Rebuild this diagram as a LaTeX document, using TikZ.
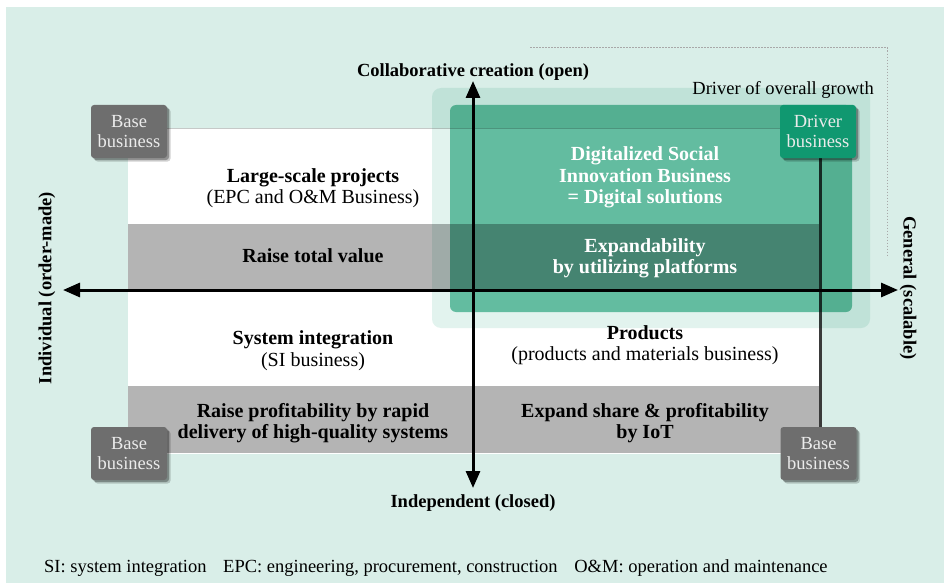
\documentclass[tikz,border=0pt]{standalone}
\usepackage{fontspec}
\setmainfont{Liberation Serif}
\usetikzlibrary{arrows.meta,shadows}
\definecolor{bgmint}{HTML}{D9EEE8}
\definecolor{halo}{HTML}{E2F3EE}
\definecolor{zone}{HTML}{70C6AC}
\definecolor{band}{HTML}{B4B4B4}
\definecolor{basegrey}{HTML}{6E6E6E}
\definecolor{drivergreen}{HTML}{109870}
\definecolor{edge}{HTML}{3A3A3A}
\definecolor{dotgrey}{HTML}{A8A8A8}

\begin{document}
\begin{tikzpicture}[x=1pt,y=-1pt,
  font=\fontsize{18.5}{21.5}\selectfont,
  tag/.style={minimum width=76pt, minimum height=53pt, inner sep=0pt,
    rounded corners=3pt, text=white!92!black, align=center,
    font=\fontsize{18.5}{20}\selectfont,
    general shadow={shadow xshift=3.5pt, shadow yshift=-3.5pt, fill=black, opacity=0.18},
    general shadow={shadow xshift=2pt, shadow yshift=-2pt, fill=black, opacity=0.3}},
  basetag/.style={tag, fill=basegrey},
  drivertag/.style={tag, fill=drivergreen},
  txt/.style={align=center, inner sep=0pt},
  quad/.style={txt, anchor=base, font=\fontsize{20}{21.5}\selectfont},
  axis/.style={line width=3pt, {Triangle[length=17pt,width=14pt]}-{Triangle[length=17pt,width=14pt]}},
]
\useasboundingbox (0,0) rectangle (944,583);
% backdrop
\fill[bgmint] (6,7) rectangle (944,583);

% quadrant field with its two grey bands
\fill[white] (128,128) rectangle (819,453);
\draw[white!80!bgmint!80!black, line width=0.6pt] (128,128) -- (819,128);
\fill[band] (128,224) rectangle (819,290);
\fill[band] (128,386) rectangle (819,453);
\draw[white, line width=1pt] (128,453.5) -- (819,453.5);
\draw[edge, line width=2.6pt] (820.5,128) -- (820.5,455);

% growth zone (tinted overlays)
\begin{scope}[blend mode=multiply]
  \fill[halo, rounded corners=9pt] (432,88) rectangle (870,328);
  \fill[zone, rounded corners=6pt] (450,105) rectangle (852,312);
\end{scope}

% quadrant texts (anchored on the last baseline)
\node[quad] (lsp) at (313,203.5) {\textbf{Large-scale projects}\\(EPC and O\&M Business)};
\node[quad] (rtv) at (313,262) {\textbf{Raise total value}};
\node[quad] (si)  at (313,366) {\textbf{System integration}\\(SI business)};
\node[quad] (rpf) at (313,438.5) {\textbf{Raise profitability by rapid}\\\textbf{delivery of high-quality systems}};
\node[quad, text=white] (dsi) at (645,203.5) {\textbf{Digitalized Social}\\\textbf{Innovation Business}\\\textbf{= Digital solutions}};
\node[quad, text=white] (exp) at (645,273.5) {\textbf{Expandability}\\\textbf{by utilizing platforms}};
\node[quad] (prd) at (645,360.5) {\textbf{Products}\\(products and materials business)};
\node[quad] (esp) at (645,438.5) {\textbf{Expand share \& profitability}\\\textbf{by IoT}};

% axes
\coordinate (west) at (63,290);
\coordinate (east) at (898,290);
\coordinate (north) at (473,81);
\coordinate (south) at (473,488);
\draw[axis] (west) -- (east);
\draw[axis] (south) -- (north);

\node[txt] (open) at (473,72) {\textbf{Collaborative creation (open)}};
\node[txt] (closed) at (473,503) {\textbf{Independent (closed)}};
\node[txt, rotate=90] (indiv) at (47,288) {\textbf{Individual (order-made)}};
\node[txt, rotate=-90] (gen) at (908,288) {\textbf{General (scalable)}};

% business tags
\node[basetag] (b1) at (129,131.5) {Base\\business};
\node[basetag] (b2) at (129,453.5) {Base\\business};
\node[basetag] (b3) at (818.5,453.5) {Base\\business};
\node[drivertag] (d1) at (818,131.5) {Driver\\business};

% growth driver callout
\node[txt, anchor=east] (growth) at (874,90) {Driver of overall growth};
\coordinate (g1) at (530,47.5);
\coordinate (g2) at (887,47.5);
\coordinate (g3) at (887,256);
\draw[dotgrey, line width=1pt, dash pattern=on 1.5pt off 1.5pt] (g1) -- (g2) -- (g3);

% abbreviations
\node[txt, anchor=west] (abbr) at (44,568) {SI: system integration\hspace{0.9em}EPC: engineering, procurement, construction\hspace{0.9em}O\&M: operation and maintenance};
\end{tikzpicture}
\end{document}
